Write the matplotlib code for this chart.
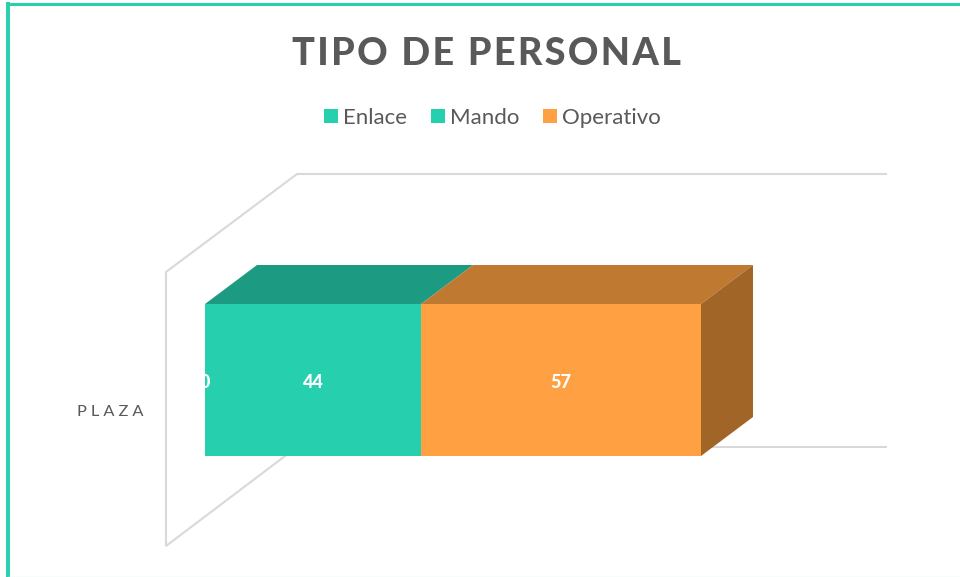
import matplotlib
matplotlib.use('Agg')
import matplotlib.pyplot as plt
from matplotlib.patches import Patch, Polygon

plt.rcParams['font.family'] = ['Lato', 'DejaVu Sans']

# datos
categoria = 'PLAZA'
series = ['Enlace', 'Mando', 'Operativo']
valores = [0, 44, 57]
color_frente = ['#26CFAE', '#26CFAE', '#FFA142']
color_arriba = ['#1C9B82', '#1C9B82', '#BF7931']
color_lado = '#A16528'
color_muro = '#D9D9D9'
color_texto = '#595959'
W, H = 960, 577


def espaciado(texto, sep='\u200a'):
    return sep.join(texto)


fig = plt.figure(figsize=(W / 100, H / 100), dpi=100)

# fondo en pixeles: marco y muros del grafico 3D
fondo = fig.add_axes([0, 0, 1, 1])
fondo.set_xlim(0, W)
fondo.set_ylim(H, 0)
fondo.axis('off')
fondo.plot([6, 960], [3.5, 3.5], color='#26CFAE', lw=2.2, solid_capstyle='butt')
fondo.plot([8, 8], [2, 577], color='#26CFAE', lw=2.8, solid_capstyle='butt')
fondo.plot([8, 960], [576.5, 576.5], color='#D4F5EE', lw=1)
fondo.plot([886, 297, 166, 166, 297, 886], [174, 174, 272, 546, 447, 447],
           color=color_muro, lw=1.5, solid_joinstyle='miter')

# barra apilada: el eje va de 0 al total
total = sum(valores)
izq, der, arriba, abajo = 205, 701, 304, 456
ax = fig.add_axes([izq / W, 1 - abajo / H, (der - izq) / W, (abajo - arriba) / H])
ax.set_xlim(0, total)
ax.set_ylim(0, 1)
ax.axis('off')
dx = 52 * total / (der - izq)
dy = 39 / (abajo - arriba)

inicio = 0
for nombre, v, c1, c2 in zip(series, valores, color_frente, color_arriba):
    ax.barh(0, v, height=1, left=inicio, align='edge', color=c1, clip_on=False, zorder=3)
    ax.add_patch(Polygon([(inicio, 1), (inicio + v, 1), (inicio + v + dx, 1 + dy), (inicio + dx, 1 + dy)],
                         closed=True, facecolor=c2, edgecolor='none', clip_on=False, zorder=3))
    ax.text(inicio + v / 2, 0.5 - 0.015, str(v), color='white', fontsize=13, fontweight=900,
            ha='center', va='center', zorder=5)
    inicio += v
ax.add_patch(Polygon([(total, 0), (total + dx, dy), (total + dx, 1 + dy), (total, 1)],
                     closed=True, facecolor=color_lado, edgecolor='none', clip_on=False, zorder=3))

fondo.text(110, 411.5, espaciado(categoria, '\u2009\u200a\u200a'), color=color_texto, fontsize=11.8, ha='center', va='center')
fig.text(487 / W, 1 - 54 / H, espaciado('TIPO DE PERSONAL'), color=color_texto, fontsize=27.2,
         fontweight=900, ha='center', va='center')

handles = [Patch(facecolor=c, edgecolor='none') for c in color_frente]
fig.legend(handles, series, loc='center', bbox_to_anchor=(492.5 / W, 1 - 118 / H), ncol=3, frameon=False,
           fontsize=16, labelcolor=color_texto, handlelength=0.62, handleheight=0.62,
           handletextpad=0.25, columnspacing=1.05)

fig.savefig('out.png', dpi=100)
